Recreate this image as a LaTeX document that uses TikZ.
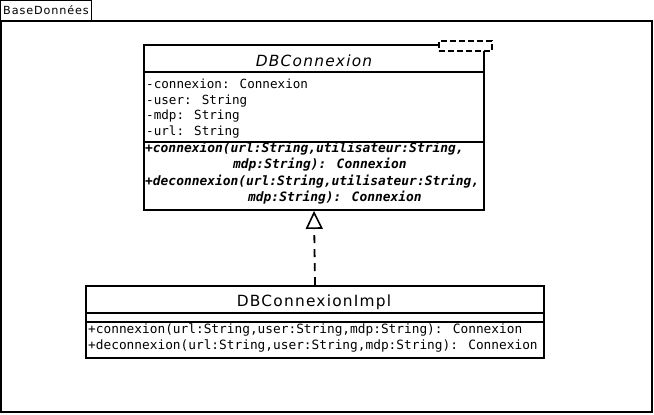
\documentclass[tikz,border=0pt]{standalone}
\usepackage{fontspec}
\usepackage{xcolor}
\usetikzlibrary{arrows.meta}
\newfontfamily\umlsans[LetterSpace=8]{DejaVu Sans}
\newfontfamily\umlmono{DejaVu Sans Mono}

\begin{document}
\begin{tikzpicture}[x=1pt,y=-1pt,
    classbox/.style={draw, line width=1.8pt, inner sep=0pt, fill=white},
    sepline/.style={line width=1.8pt},
    attr/.style={anchor=base west, inner sep=0pt, font=\fontsize{12.6}{15}\umlmono},
    ops/.style={anchor=base west, inner sep=0pt, font=\fontsize{12.8}{15}\umlmono},
    meth/.style={anchor=base west, inner sep=0pt, font=\fontsize{12.9}{15}\umlmono\bfseries\itshape},
    realize/.style={line width=1.8pt, dash pattern=on 8pt off 6pt,
      -{Triangle[open, length=18pt, width=17pt, line width=1.6pt]}}]
      % \draw[help lines, gray!50, very thin] (0,0) grid[step=50] (654,415);
      \useasboundingbox (0,0) rectangle (654,415);

      % package
      \draw[line width=1pt] (0.5,0.5) rectangle (91,21);
      \node[anchor=base west, inner sep=0pt, font=\fontsize{11.2}{13}\umlsans] (pkgname) at (3,14.7) {BaseDonnées};
      \draw[line width=2pt] (1,21) rectangle (652,412);

      % interface
      \node[classbox, minimum width=340pt, minimum height=165pt] (dbc) at (314,127.5) {};
      \node[anchor=base, inner sep=0pt, font=\fontsize{15.4}{18}\umlsans\itshape] (dbctitle) at (314,66) {DBConnexion};
      \draw[sepline] (144,72) -- (484,72);
      \draw[sepline] (144,142) -- (484,142);
      \node[attr] (a1) at (146,88) {-connexion: Connexion};
      \node[attr] (a2) at (146,104) {-user: String};
      \node[attr] (a3) at (146,119.5) {-mdp: String};
      \node[attr] (a4) at (146,135) {-url: String};
      \node[meth] (m1) at (145,152) {+connexion(url:String,utilisateur:String,};
      \node[meth] (m2) at (233,168.5) {mdp:String): Connexion};
      \node[meth] (m3) at (145,185) {+deconnexion(url:String,utilisateur:String,};
      \node[meth] (m4) at (248,201.5) {mdp:String): Connexion};
      \node[draw, fill=white, line width=1.6pt, dash pattern=on 6pt off 3pt,
        minimum width=53pt, minimum height=10pt, inner sep=0pt] (tmpl) at (465.5,46) {};

      % implementation
      \node[classbox, minimum width=458pt, minimum height=72pt] (impl) at (315,322) {};
      \node[anchor=base, inner sep=0pt, font=\fontsize{15.4}{18}\umlsans] (impltitle) at (314,306) {DBConnexionImpl};
      \draw[sepline] (86,313) -- (544,313);
      \draw[sepline] (86,322) -- (544,322);
      \node[ops] (i1) at (88,333) {+connexion(url:String,user:String,mdp:String): Connexion};
      \node[ops] (i2) at (88,349) {+deconnexion(url:String,user:String,mdp:String): Connexion};

      \draw[realize] (impl.north) -- (dbc.south);
\end{tikzpicture}
\end{document}
